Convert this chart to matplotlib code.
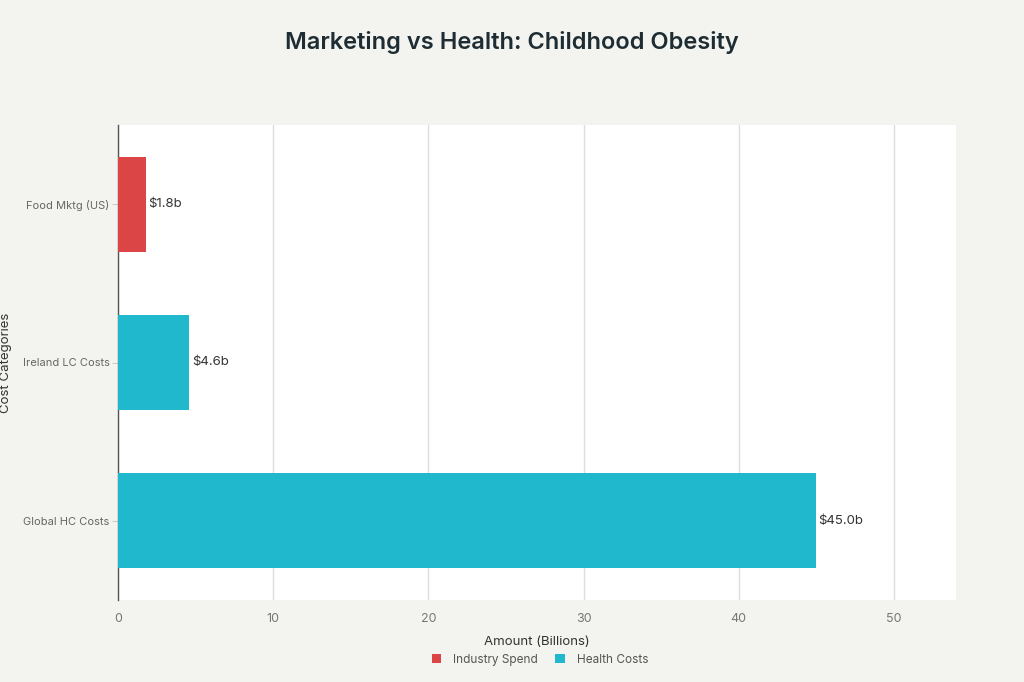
import matplotlib
matplotlib.use("Agg")
import matplotlib.pyplot as plt
from matplotlib.patches import Patch

categories = ["Food Mktg (US)", "Ireland LC Costs", "Global HC Costs"]
values = [1.8, 4.6, 45.0]
groups = ["Industry Spend", "Health Costs", "Health Costs"]
value_labels = ["$1.8b", "$4.6b", "$45.0b"]
xticks = [0, 10, 20, 30, 40, 50]

colors = {"Industry Spend": "#DB4545", "Health Costs": "#1FB8CD"}
bg = "#F3F3EF"

plt.rcParams['font.family'] = ['Inter', 'DejaVu Sans']

fig = plt.figure(figsize=(10.24, 6.82), dpi=100, facecolor=bg)
ax = fig.add_axes([118/1024, 1 - 600/682, (956-118)/1024, (600-125)/682])
ax.set_facecolor("white")

ypos = list(range(len(categories)))
bars = ax.barh(ypos, values, height=0.6,
               color=[colors[g] for g in groups], zorder=3)

for b, lab in zip(bars, value_labels):
    ax.text(b.get_width() + 0.15, b.get_y() + b.get_height()/2, lab,
            va="center", ha="left", fontsize=9.5, color="#333333", zorder=4)

ax.set_xlim(0, 54)
ax.set_ylim(2.5, -0.5)
ax.set_yticks(ypos)
ax.set_yticklabels(categories)
ax.set_xticks(xticks)
ax.xaxis.grid(True, color="#DDDDDD", linewidth=1, zorder=0)
ax.yaxis.grid(False)

for s in ["top", "right", "bottom"]:
    ax.spines[s].set_visible(False)
ax.spines["left"].set_color("#555555")
ax.spines["left"].set_linewidth(1)

ax.tick_params(axis="x", length=0, labelsize=9, labelcolor="#777777", pad=9)
ax.tick_params(axis="y", length=4, color="#CCCCCC", labelsize=8, labelcolor="#666666", pad=2)

ax.set_xlabel("Amount (Billions)", fontsize=9.5, color="#333333", labelpad=8)
ax.set_ylabel("Cost Categories", fontsize=9.5, color="#333333")
ax.yaxis.set_label_coords(-(118 - 12) / (956 - 118), 0.5)

fig.suptitle("Marketing vs Health: Childhood Obesity", x=0.5, y=1 - 42/682,
             va="center", fontsize=17, fontweight="semibold", color="#1E2D33")

handles = [Patch(facecolor=colors["Industry Spend"], label="Industry Spend"),
           Patch(facecolor=colors["Health Costs"], label="Health Costs")]
fig.legend(handles=handles, loc="center", bbox_to_anchor=(540/1024, 1 - 660/682),
           ncol=2, frameon=False, fontsize=8.5, handlelength=0.8, handleheight=0.8,
           columnspacing=1.5, handletextpad=1.0, labelcolor="#555555")

fig.savefig("out.png", dpi=100, facecolor=bg)
